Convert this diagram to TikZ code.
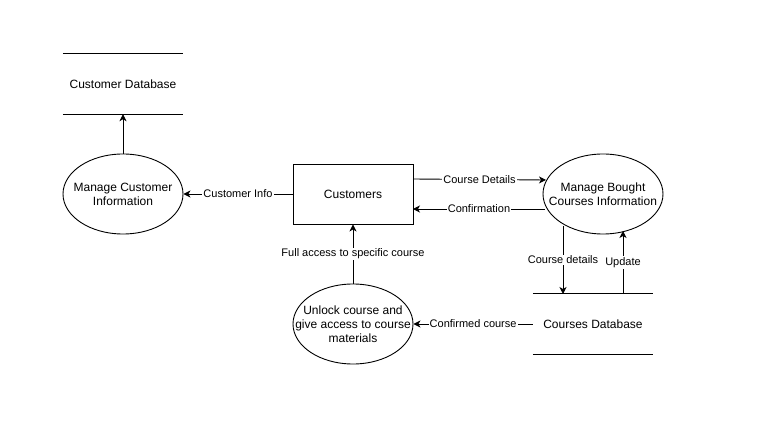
\documentclass[tikz,border=0pt]{standalone}
\usepackage{fontspec}
\setmainfont{Liberation Sans}
\usetikzlibrary{arrows.meta,shapes.geometric}
\begin{document}
\begin{tikzpicture}[x=1pt,y=-1pt,
  every node/.style={font=\fontsize{12}{14}\selectfont, align=center, inner sep=0pt},
  proc/.style={draw, ellipse, minimum width=120pt, minimum height=80pt, line width=0.9pt},
  ent/.style={draw, rectangle, minimum width=120pt, minimum height=60pt, line width=0.9pt},
  store/.style={minimum width=120pt, minimum height=60pt},
  flow/.style={line width=0.9pt, -{Stealth[length=7pt,width=7pt,inset=2pt]}},
  lbl/.style={fill=white, font=\fontsize{11}{13}\selectfont, inner sep=1pt}]
\fill[white] (0,0) rectangle (764,425);
\useasboundingbox (0,0) rectangle (764,425);

% data stores
\node[store] (cdb) at (123,84) {Customer Database};
\draw[line width=0.9pt] (cdb.north west) -- (cdb.north east) (cdb.south west) -- (cdb.south east);
\node[store] (kdb) at (593,324) {Courses Database};
\draw[line width=0.9pt] (kdb.north west) -- (kdb.north east) (kdb.south west) -- (kdb.south east);

% processes and entity
\node[proc] (mci) at (123,194) {};
\node (mcit) at (mci.center) {Manage Customer\\Information};
\node[ent] (cust) at (353,194) {Customers};
\node[proc] (mbc) at (603,194) {};
\node (mbct) at (mbc.center) {Manage Bought\\Courses Information};
\node[proc] (unl) at (353,324) {};
\node (unlt) at (unl.center) {Unlock course and\\give access to course\\materials};

% flows
\draw[flow] (mci.north) -- (cdb.south);
\draw[flow] (cust.west) -- node[lbl]{Customer Info} (mci.east);
\coordinate (cd1) at (413,179);
\coordinate (cd2) at (546,180);
\draw[flow] (cd1) -- node[lbl, above=-6pt]{Course Details} (cd2);
\coordinate (cf1) at (545,209);
\coordinate (cf2) at (413,209);
\draw[flow] (cf1) -- node[lbl]{Confirmation} (cf2);
\coordinate (dd1) at (563,226);
\coordinate (dd2) at (563,294);
\draw[flow] (dd1) -- node[lbl]{Course details} (dd2);
\coordinate (up1) at (623,294);
\coordinate (up2) at (623,231);
\draw[flow] (up1) -- node[lbl]{Update} (up2);
\draw[flow] (kdb.west) -- node[lbl]{Confirmed course} (unl.east);
\draw[flow] (unl.north) -- node[lbl]{Full access to specific course} (cust.south);
\end{tikzpicture}
\end{document}
